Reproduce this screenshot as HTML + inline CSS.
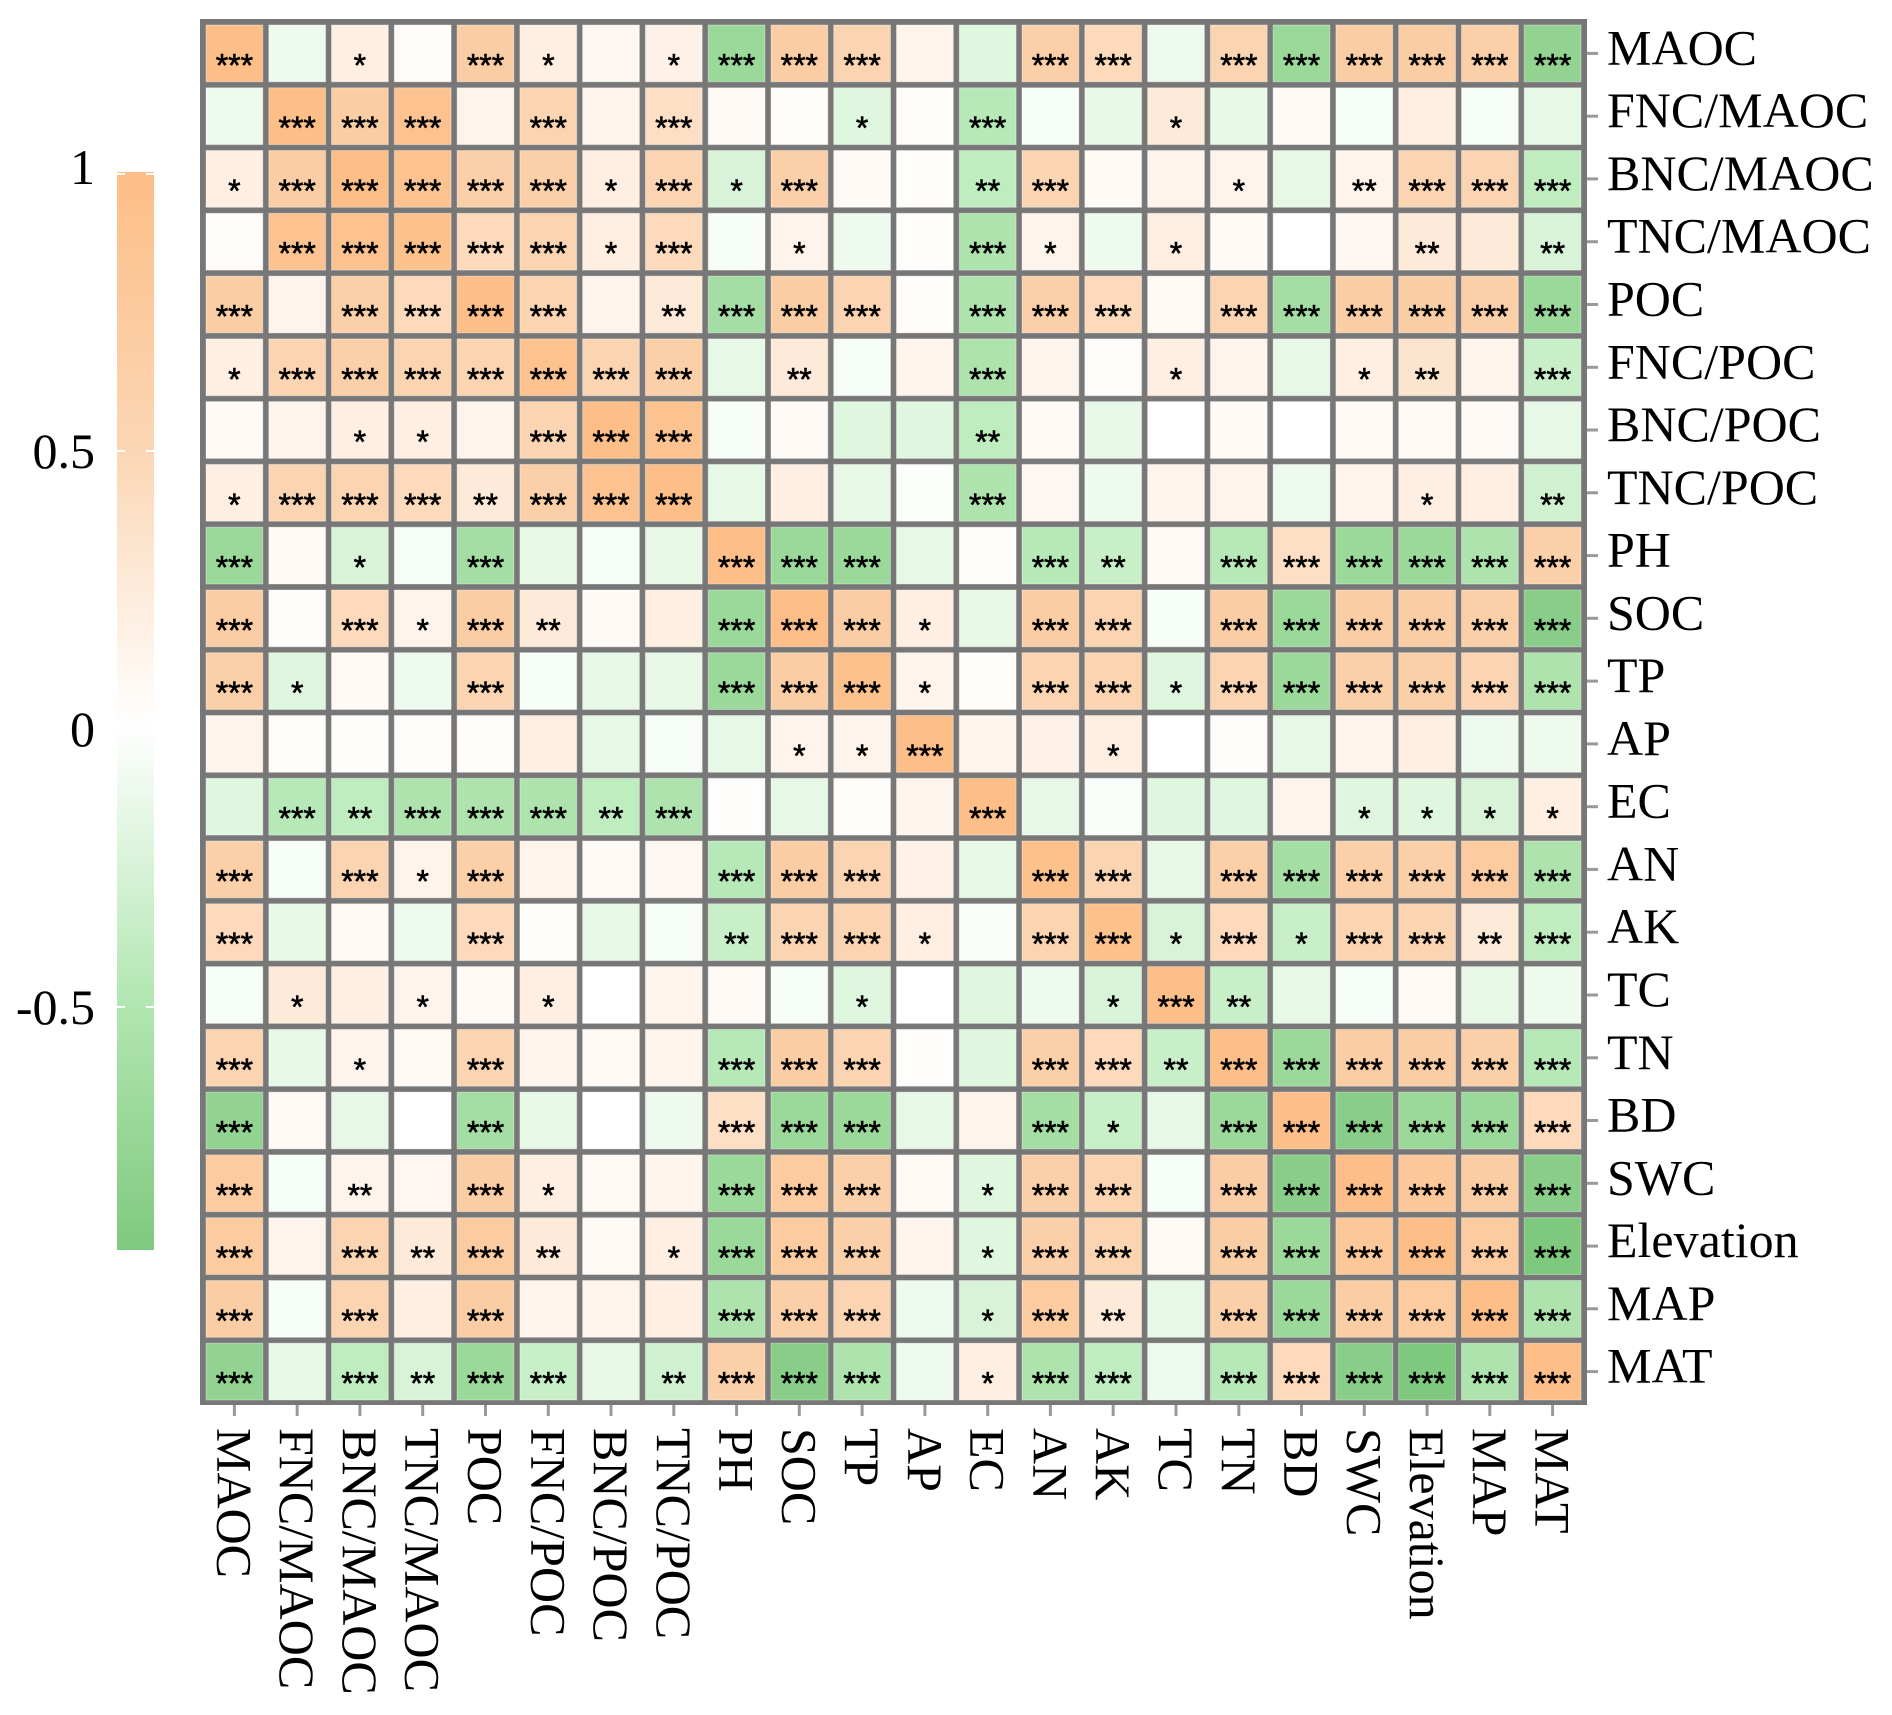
<!DOCTYPE html>
<html><head><meta charset="utf-8"><style>
html,body{margin:0;padding:0;background:#fff;}
svg{display:block;}
text{font-family:"Liberation Serif",serif;fill:#000;}
.st{font-family:"Liberation Sans",sans-serif;font-size:32px;stroke:#000;stroke-width:0.6px;}
</style></head><body>
<svg id="s" width="1892" height="1715" xmlns="http://www.w3.org/2000/svg">
<defs><linearGradient id="cb" x1="0" y1="0" x2="0" y2="1">
<stop offset="0" stop-color="#FDBE87"/>
<stop offset="0.257" stop-color="#FBD6B4"/>
<stop offset="0.514" stop-color="#FFFFFF"/>
<stop offset="0.77" stop-color="#B2E6B2"/>
<stop offset="1" stop-color="#7FC97F"/>
</linearGradient></defs>
<rect x="117" y="172" width="37" height="1078" fill="url(#cb)"/>
<g stroke="#fff" stroke-width="2">
<line x1="117" y1="451" x2="125" y2="451"/><line x1="146" y1="451" x2="154" y2="451"/>
<line x1="117" y1="1007" x2="125" y2="1007"/><line x1="146" y1="1007" x2="154" y2="1007"/>
<line x1="117" y1="174" x2="125" y2="174"/><line x1="146" y1="174" x2="154" y2="174"/>
</g>
<g font-size="50" text-anchor="end">
<text x="95" y="184">1</text>
<text x="95" y="468">0.5</text>
<text x="95" y="746">0</text>
<text x="95" y="1024">-0.5</text>
</g>
<g id="g"></g>
</svg>
<script>
var L=["MAOC","FNC/MAOC","BNC/MAOC","TNC/MAOC","POC","FNC/POC","BNC/POC","TNC/POC","PH","SOC","TP","AP","EC","AN","AK","TC","TN","BD","SWC","Elevation","MAP","MAT"];
var M=[
".8***,-.1,.15*,.03,.5***,.15*,.08,.12*,-.6***,.5***,.4***,.1,-.2,.45***,.35***,-.1,.4***,-.6***,.5***,.5***,.45***,-.65***",
"-.1,.8***,.5***,.7***,.1,.4***,.1,.3***,.05,.03,-.2*,.03,-.45***,-.05,-.15,.2*,-.15,.05,-.05,.15,-.05,-.15",
".15*,.5***,.85***,.7***,.45***,.45***,.15*,.4***,-.25*,.45***,.05,.02,-.4**,.4***,.05,.1,.1*,-.15,.1**,.4***,.4***,-.4***",
".03,.7***,.7***,.75***,.35***,.4***,.15*,.35***,-.05,.1*,-.1,.02,-.5***,.1*,-.1,.15*,.05,0,.08,.2**,.2,-.25**",
".5***,.1,.45***,.35***,.85***,.4***,.1,.2**,-.55***,.5***,.4***,.03,-.5***,.45***,.35***,.05,.4***,-.55***,.5***,.5***,.45***,-.6***",
".15*,.4***,.45***,.4***,.4***,.7***,.4***,.45***,-.15,.2**,-.05,.1,-.5***,.1,.02,.15*,.1,-.15,.15*,.25**,.1,-.35***",
".05,.1,.15*,.15*,.1,.4***,.85***,.7***,-.05,.05,-.2,-.2,-.4**,.05,-.15,0,.05,0,.05,.05,.05,-.15",
".15*,.4***,.4***,.35***,.2**,.45***,.7***,.8***,-.15,.15,-.15,-.02,-.5***,.08,-.1,.1,.1,-.1,.1,.15*,.15,-.3**",
"-.6***,.05,-.25*,-.05,-.55***,-.15,-.05,-.15,.8***,-.6***,-.6***,-.15,.02,-.45***,-.35**,.05,-.45***,.3***,-.6***,-.6***,-.5***,.45***",
".5***,.02,.35***,.1*,.5***,.2**,.05,.15,-.6***,.8***,.5***,.15*,-.15,.5***,.4***,-.05,.5***,-.6***,.5***,.5***,.45***,-.7***",
".45***,-.2*,.05,-.1,.4***,-.05,-.15,-.15,-.6***,.5***,.75***,.1*,.03,.4***,.4***,-.2*,.4***,-.6***,.45***,.45***,.4***,-.5***",
".1,.03,.02,.02,.03,.15,-.15,-.05,-.15,.1*,.1*,.8***,.1,.12,.15*,0,.02,-.15,.1,.15,-.1,-.1",
"-.2,-.45***,-.4**,-.5***,-.5***,-.5***,-.4**,-.5***,.02,-.15,.03,.1,.8***,-.15,-.03,-.2,-.2,.1,-.2*,-.2*,-.25*,.15*",
".45***,-.05,.4***,.1*,.45***,.1,.05,.08,-.45***,.5***,.4***,.12,-.15,.75***,.4***,-.15,.45***,-.55***,.45***,.45***,.55***,-.5***",
".35***,-.15,.05,-.1,.35***,.02,-.15,-.05,-.35**,.4***,.4***,.15*,-.03,.4***,.75***,-.25*,.35***,-.35*,.4***,.4***,.2**,-.4***",
"-.05,.2*,.15,.1*,.05,.15*,0,.1,.05,-.05,-.2*,0,-.2,-.1,-.25*,.8***,-.35**,-.15,-.05,.05,-.15,-.1",
".4***,-.15,.1*,.05,.4***,.1,.05,.1,-.45***,.5***,.4***,.02,-.2,.45***,.35***,-.35**,.8***,-.6***,.5***,.5***,.45***,-.45***",
"-.65***,.05,-.15,0,-.55***,-.15,0,-.1,.3***,-.6***,-.6***,-.15,.1,-.55***,-.35*,-.15,-.6***,.8***,-.7***,-.6***,-.6***,.35***",
".55***,-.05,.1**,.08,.5***,.15*,.05,.1,-.6***,.55***,.45***,.05,-.2*,.45***,.4***,-.05,.5***,-.7***,.8***,.6***,.5***,-.7***",
".55***,.1,.4***,.2**,.55***,.2**,.05,.15*,-.6***,.55***,.45***,.1,-.2*,.45***,.4***,.05,.5***,-.6***,.6***,.8***,.55***,-.75***",
".5***,-.05,.4***,.15,.5***,.1,.1,.15,-.5***,.45***,.4***,-.1,-.25*,.55***,.2**,-.15,.45***,-.6***,.5***,.55***,.8***,-.5***",
"-.65***,-.15,-.4***,-.25**,-.6***,-.35***,-.15,-.3**,.45***,-.7***,-.5***,-.1,.15*,-.5***,-.4***,-.1,-.45***,.35***,-.7***,-.75***,-.5***,.8***"];
function mix(a,b,t){return a.map(function(v,i){return Math.round(v+(b[i]-v)*t);});}
function col(v){var c;
 if(v>=0){v=Math.min(v/0.8,1); c=v<0.55?mix([255,255,255],[251,208,170],v/0.55):mix([251,208,170],[253,190,135],(v-0.55)/0.45);}
 else{v=Math.min(-v/0.75,1); c=v<0.55?mix([255,255,255],[190,236,190],v/0.55):mix([190,236,190],[127,201,127],(v-0.55)/0.45);}
 return "rgb("+c.join(",")+")";}
var x0=200,y0=19,p=(1587-200-6)/22,h="";
h+='<rect x="'+x0+'" y="'+y0+'" width="'+(1587-x0)+'" height="'+(1405-y0)+'" fill="#777"/>';
for(var r=0;r<22;r++){var row=M[r].split(",");
 for(var c=0;c<22;c++){var s=row[c],m=s.match(/^(-?[\d.]+)(\**)$/),v=parseFloat(m[1]),st=m[2];
  var x=x0+6+c*p,y=y0+6+r*p,w=p-6;
  h+='<rect x="'+x.toFixed(1)+'" y="'+y.toFixed(1)+'" width="'+w.toFixed(1)+'" height="'+w.toFixed(1)+'" fill="'+col(v)+'" stroke="rgba(255,255,255,0.35)" stroke-width="1"/>';
  if(st)h+='<text class="st" text-anchor="middle" x="'+(x+w/2).toFixed(1)+'" y="'+(y+w/2+23).toFixed(1)+'">'+st+'</text>';
 }}
for(var i=0;i<22;i++){var cy=y0+6+i*p+(p-6)/2,cx=x0+6+i*p+(p-6)/2;
 h+='<line x1="1587" y1="'+cy.toFixed(1)+'" x2="1598" y2="'+cy.toFixed(1)+'" stroke="#999" stroke-width="3"/>';
 h+='<line x1="'+cx.toFixed(1)+'" y1="1405" x2="'+cx.toFixed(1)+'" y2="1416" stroke="#999" stroke-width="3"/>';
 h+='<text font-size="50" x="1607" y="'+(cy+11).toFixed(1)+'">'+L[i]+'</text>';
 h+='<text font-size="50" transform="translate('+cx.toFixed(1)+',1428) rotate(90)" y="17">'+L[i]+'</text>';
}
document.getElementById("g").innerHTML=h;
</script>
</body></html>
